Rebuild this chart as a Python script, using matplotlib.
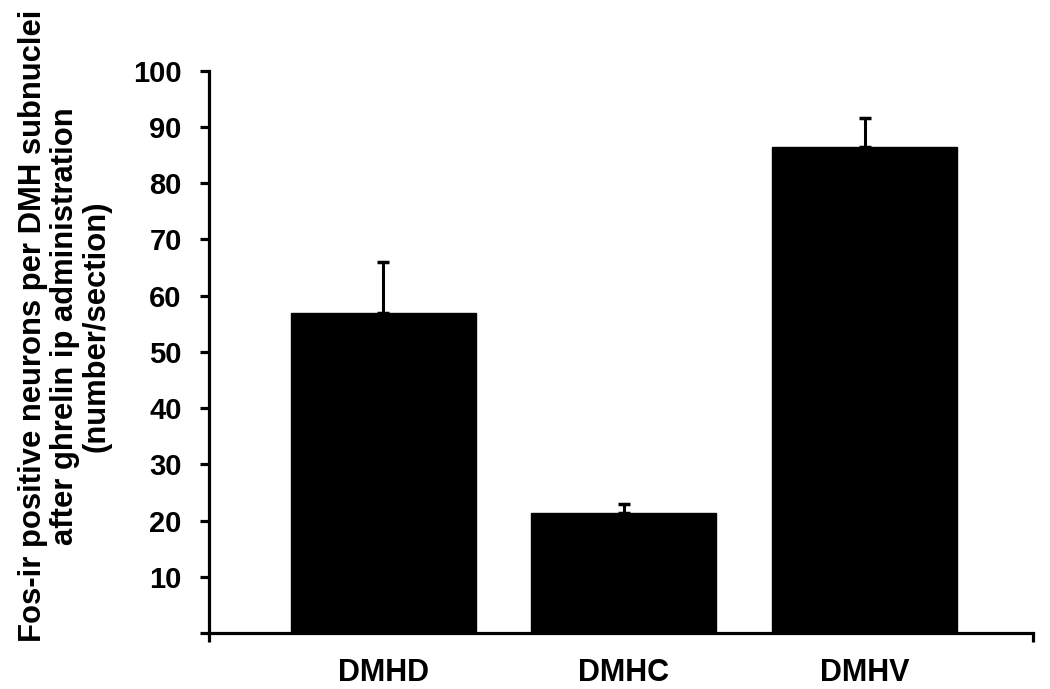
import matplotlib
matplotlib.use("Agg")
import matplotlib.pyplot as plt

plt.rcParams['font.family'] = ['Liberation Sans', 'DejaVu Sans']
plt.rcParams['font.weight'] = 'bold'

# values
regions = ["DMHD", "DMHC", "DMHV"]
means = [56.9, 21.3, 86.5]
sem = [9.1, 1.6, 5.1]
yticks = [0, 10, 20, 30, 40, 50, 60, 70, 80, 90, 100]
ytick_labels = ["", "10", "20", "30", "40", "50", "60", "70", "80", "90", "100"]
ylabel = "Fos-ir positive neurons per DMH subnuclei\nafter ghrelin ip administration\n(number/section)"

fig = plt.figure(figsize=(10.5, 6.89), dpi=100)
ax = fig.add_axes([0.199, 0.0813, 0.785, 0.816])

pos = list(range(len(regions)))
ax.bar(pos, means, width=0.768, color="black", edgecolor="black", zorder=2)
ax.errorbar(pos, means, yerr=[[0] * len(sem), sem], fmt="none", ecolor="black",
            elinewidth=2.2, capsize=4.5, capthick=2.5, zorder=1)

ax.set_xlim(-0.723, 2.70)
ax.set_ylim(0, 100)

for s in ["top", "right"]:
    ax.spines[s].set_visible(False)
for s in ["left", "bottom"]:
    ax.spines[s].set_linewidth(2.3)

ax.set_yticks(yticks)
ax.set_yticklabels(ytick_labels)
ax.tick_params(axis="y", direction="out", length=6.5, width=2.3, pad=13, labelsize=21)

ax.set_xticks(pos)
ax.set_xticklabels(regions)
ax.tick_params(axis="x", which="major", length=0, pad=18, labelsize=22)
ax.set_xticks([-0.723, 2.70], minor=True)
ax.tick_params(axis="x", which="minor", direction="out", length=6.5, width=2.3)

fig.text(0.062, 0.527, ylabel, rotation=90, ha="center", va="center",
         multialignment="center", fontsize=22.3, fontweight="bold", linespacing=1.08)

fig.savefig("out.png", dpi=100)
